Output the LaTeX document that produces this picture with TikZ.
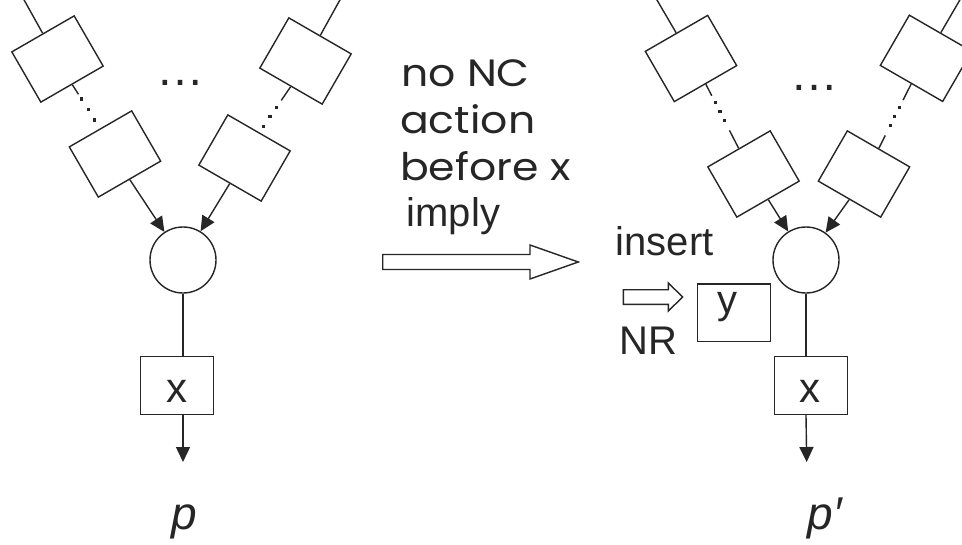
\documentclass[tikz,border=0pt]{standalone}
\usepackage{fontspec}
\setmainfont{Liberation Sans}
\newfontfamily\comicfont{Poppins}
\usetikzlibrary{arrows.meta,calc}
\definecolor{ink}{HTML}{262626}
\begin{document}
\begin{tikzpicture}[x=1pt,y=-1pt,
  pbox/.style={draw=ink, line width=1.4pt, minimum width=72pt, minimum height=58pt, inner sep=0pt},
  jcirc/.style={circle, draw=ink, line width=1.4pt, minimum size=66pt, inner sep=0pt},
  wire/.style={draw=ink, line width=1.4pt},
  dotn/.style={fill=ink, rectangle, minimum size=3.2pt, inner sep=0pt},
  arrline/.style={wire, -{Triangle[length=15pt,width=14pt]}},
  hollowarr/.style={draw=ink, fill=white, line width=1.4pt, line join=miter},
  lbltxt/.style={text=ink, inner sep=0pt, font=\fontsize{40}{40}\selectfont},
  xtxt/.style={text=ink, inner sep=0pt, font=\fontsize{42}{42}\selectfont},
  comictxt/.style={text=ink, inner sep=0pt, anchor=base west, font=\comicfont\fontsize{38}{38}\selectfont},
  elltxt/.style={text=ink, inner sep=0pt, anchor=base, font=\fontsize{48}{48}\selectfont},
  ptxt/.style={text=ink, inner sep=0pt, anchor=base, font=\itshape\fontsize{46}{46}\selectfont},
]
\fill[white] (0,0) rectangle (962,544);
\useasboundingbox (0,0) rectangle (962,544);

% ---------- left figure ----------
\node[pbox, rotate=30] (La1) at (57.5,59) {};
\node[pbox, rotate=30] (La2) at (115,154) {};
\node[pbox, rotate=-30] (Lb1) at (305.5,61) {};
\node[pbox, rotate=-30] (Lb2) at (244.5,158) {};
\node[jcirc] (Lc) at (183,260) {};
\node[pbox, minimum width=73pt] (Lx) at (177,385.5) {};
\node[xtxt, anchor=base] (Lxt) at (177,402.7) {x};
\coordinate (La0) at (23,-2);
\coordinate (Lb0) at (341,-2);
\coordinate (Lend) at (183,462);

\draw[wire] (La0) -- (La1.north);
\draw[wire] (Lb0) -- (Lb1.north);
\draw[wire] (La1.south) -- ($(La1.south)!0.22!(La2.north)$);
\path (La1.south) -- (La2.north)
  node[dotn, pos=0.33] {} node[dotn, pos=0.57] {} node[dotn, pos=0.81] {};
\draw[wire] (Lb1.south) -- ($(Lb1.south)!0.3!(Lb2.north)$);
\path (Lb1.south) -- (Lb2.north)
  node[dotn, pos=0.45] {} node[dotn, pos=0.66] {} node[dotn, pos=0.87] {};
\draw[arrline] (La2.south) -- (Lc);
\draw[arrline] (Lb2.south) -- (Lc);
\draw[wire] (Lc.south) -- (Lc.south |- Lx.north);
\draw[arrline] (Lx.south -| Lc) -- (Lend);
\node[elltxt] (Lell) at (180,85) {…};
\node[ptxt] (Lp) at (184,529) {p};

% ---------- middle ----------
\node[comictxt] (t1) at (401,86.7) {\scalebox{1.12}[1]{no NC}};
\node[comictxt] (t2) at (400,133) {\scalebox{1.12}[1]{action}};
\node[comictxt] (t3) at (400,180) {\scalebox{1.12}[1]{before x}};
\node[lbltxt, anchor=base west] (t4) at (406.5,226) {imply};
\draw[hollowarr] (382.7,254.5) -- (530,254.5) -- (530,245) -- (578.3,262) -- (530,279) -- (530,269.5) -- (382.7,269.5) -- cycle;

% ---------- right figure ----------
\node[pbox, rotate=30] (Ra1) at (691,58.5) {};
\node[pbox, rotate=30] (Ra2) at (753.5,174) {};
\node[pbox, rotate=-30] (Rb1) at (926,58.3) {};
\node[pbox, rotate=-30] (Rb2) at (864,174) {};
\node[jcirc] (Rc) at (806,260) {};
\node[pbox, minimum width=73pt] (Rx) at (810.8,385.5) {};
\node[xtxt, anchor=base] (Rxt) at (810,402.7) {x};
\node[pbox, minimum width=73.4pt, minimum height=57.7pt] (Ry) at (734,312.85) {};
\node[lbltxt, anchor=base] (Ryt) at (727,313) {y};
\coordinate (Ra0) at (655.8,-2);
\coordinate (Rb0) at (961,-2);
\coordinate (Rend) at (806.7,462);

\draw[wire] (Ra0) -- (Ra1.north);
\draw[wire] (Rb0) -- (Rb1.north);
\draw[wire] (Ra1.south) -- ($(Ra1.south)!0.18!(Ra2.north)$);
\path (Ra1.south) -- (Ra2.north)
  node[dotn, pos=0.29] {} node[dotn, pos=0.43] {} node[dotn, pos=0.57] {};
\draw[wire] ($(Ra1.south)!0.72!(Ra2.north)$) -- (Ra2.north);
\draw[wire] (Rb1.south) -- ($(Rb1.south)!0.25!(Rb2.north)$);
\path (Rb1.south) -- (Rb2.north)
  node[dotn, pos=0.37] {} node[dotn, pos=0.51] {} node[dotn, pos=0.65] {};
\draw[wire] ($(Rb1.south)!0.8!(Rb2.north)$) -- (Rb2.north);
\draw[arrline] (Ra2.south) -- (Rc);
\draw[arrline] (Rb2.south) -- (Rc);
\draw[wire] (Rc.south) -- (Rc.south |- Rx.north);
\draw[arrline] (Rx.south -| Rc) -- (Rend);
\node[elltxt] (Rell) at (814,90.5) {…};
\node[ptxt] (Rp) at (825,529) {p\char"2032};

\node[lbltxt, anchor=base west] (ins) at (615.6,255) {insert};
\node[lbltxt, anchor=base west] (nr) at (619.3,354.3) {NR};
\draw[hollowarr] (623.3,289.7) -- (668.3,289.7) -- (668.3,283) -- (682.7,297) -- (668.3,311) -- (668.3,304.3) -- (623.3,304.3) -- cycle;
\end{tikzpicture}
\end{document}
